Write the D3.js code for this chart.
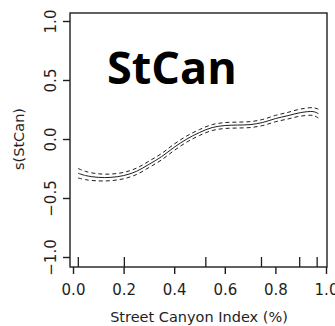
<!DOCTYPE html>
<html>
<head>
<meta charset="utf-8">
<script src="https://cdn.jsdelivr.net/npm/d3@7"></script>
<style>
  html, body { margin: 0; padding: 0; background: #fff; }
  svg { display: block; }
</style>
</head>
<body>
<div id="chart"></div>
<script>
// Smooth term for street canyon index
const canyonX  = [0.02, 0.05, 0.10, 0.15, 0.20, 0.25, 0.30, 0.35, 0.40, 0.45, 0.50,
                  0.55, 0.60, 0.65, 0.70, 0.75, 0.80, 0.85, 0.90, 0.95, 0.97];
const fitVals  = [-0.29, -0.31, -0.325, -0.325, -0.31, -0.275, -0.215, -0.15, -0.07, 0.0, 0.055,
                  0.097, 0.114, 0.118, 0.122, 0.14, 0.173, 0.198, 0.224, 0.232, 0.215];
const upperVals = [-0.25, -0.275, -0.295, -0.297, -0.283, -0.248, -0.188, -0.123, -0.043, 0.026, 0.08,
                   0.122, 0.139, 0.143, 0.147, 0.166, 0.2, 0.226, 0.254, 0.265, 0.252];
const lowerVals = [-0.33, -0.345, -0.355, -0.353, -0.337, -0.302, -0.242, -0.177, -0.097, -0.026, 0.03,
                   0.072, 0.089, 0.093, 0.097, 0.114, 0.146, 0.17, 0.194, 0.199, 0.178];
const rugVals  = [0.021, 0.203, 0.525, 0.745, 0.896, 0.965];
const xTicks   = [0, 0.2, 0.4, 0.6, 0.8, 1.0];
const yTicks   = [-1.0, -0.5, 0.0, 0.5, 1.0];

const width = 335, height = 326;
const box = { left: 70, top: 13, right: 327, bottom: 267 };
const ink = "#1e1e1e";
const font = "DejaVu Sans, sans-serif";

const svg = d3.select("#chart").append("svg")
  .attr("width", width)
  .attr("height", height);

// Scales
const x = d3.scaleLinear().domain([0, 1]).range([73, 326]);
const y = d3.scaleLinear().domain([-1, 1]).range([257, 21]);

// Curves
const line = (vals) => d3.line()
  .x((d, i) => x(canyonX[i]))
  .y(d => y(d))
  .curve(d3.curveCatmullRom)(vals);

svg.append("path")
  .attr("d", line(fitVals))
  .attr("fill", "none")
  .attr("stroke", ink)
  .attr("stroke-width", 1);

[upperVals, lowerVals].forEach(vals => {
  svg.append("path")
    .attr("d", line(vals))
    .attr("fill", "none")
    .attr("stroke", ink)
    .attr("stroke-width", 1)
    .attr("stroke-dasharray", "4,3");
});

// Rug
svg.append("g")
  .selectAll("line")
  .data(rugVals)
  .join("line")
    .attr("x1", d => x(d))
    .attr("x2", d => x(d))
    .attr("y1", box.bottom)
    .attr("y2", box.bottom - 10)
    .attr("stroke", ink)
    .attr("stroke-width", 1.3);

// Box
svg.append("rect")
  .attr("x", box.left)
  .attr("y", box.top)
  .attr("width", box.right - box.left)
  .attr("height", box.bottom - box.top)
  .attr("fill", "none")
  .attr("stroke", ink)
  .attr("stroke-width", 1.4);

// Axes
const xAxis = d3.axisBottom(x)
  .tickValues(xTicks)
  .tickFormat(d3.format(".1f"))
  .tickSize(7)
  .tickPadding(10);

svg.append("g")
  .attr("transform", `translate(0,${box.bottom})`)
  .call(xAxis)
  .call(g => g.select(".domain").remove())
  .call(g => g.selectAll(".tick line").attr("stroke", ink).attr("stroke-width", 1.4))
  .call(g => g.selectAll(".tick text")
    .attr("fill", ink)
    .attr("font-family", font)
    .attr("font-size", 15));

const yAxis = d3.axisLeft(y)
  .tickValues(yTicks)
  .tickFormat(d3.format(".1f"))
  .tickSize(7);

svg.append("g")
  .attr("transform", `translate(${box.left},0)`)
  .call(yAxis)
  .call(g => g.select(".domain").remove())
  .call(g => g.selectAll(".tick line").attr("stroke", ink).attr("stroke-width", 1.4))
  .call(g => g.selectAll(".tick text")
    .attr("fill", ink)
    .attr("font-family", font)
    .attr("font-size", 15)
    .attr("x", null)
    .attr("dy", null)
    .attr("text-anchor", "middle")
    .attr("transform", "translate(-14,0) rotate(-90)"));

// Axis titles
svg.append("text")
  .attr("x", 199)
  .attr("y", 322)
  .attr("text-anchor", "middle")
  .attr("fill", ink)
  .attr("font-family", font)
  .attr("font-size", 14.5)
  .text("Street Canyon Index (%)");

svg.append("text")
  .attr("transform", "translate(24,139) rotate(-90)")
  .attr("text-anchor", "middle")
  .attr("fill", ink)
  .attr("font-family", font)
  .attr("font-size", 14.5)
  .text("s(StCan)");

// Panel label
svg.append("text")
  .attr("x", 107)
  .attr("y", 84)
  .attr("fill", "#000")
  .attr("font-family", "Open Sans, sans-serif")
  .attr("font-weight", 700)
  .attr("font-size", 45)
  .text("StCan");
</script>
</body>
</html>
